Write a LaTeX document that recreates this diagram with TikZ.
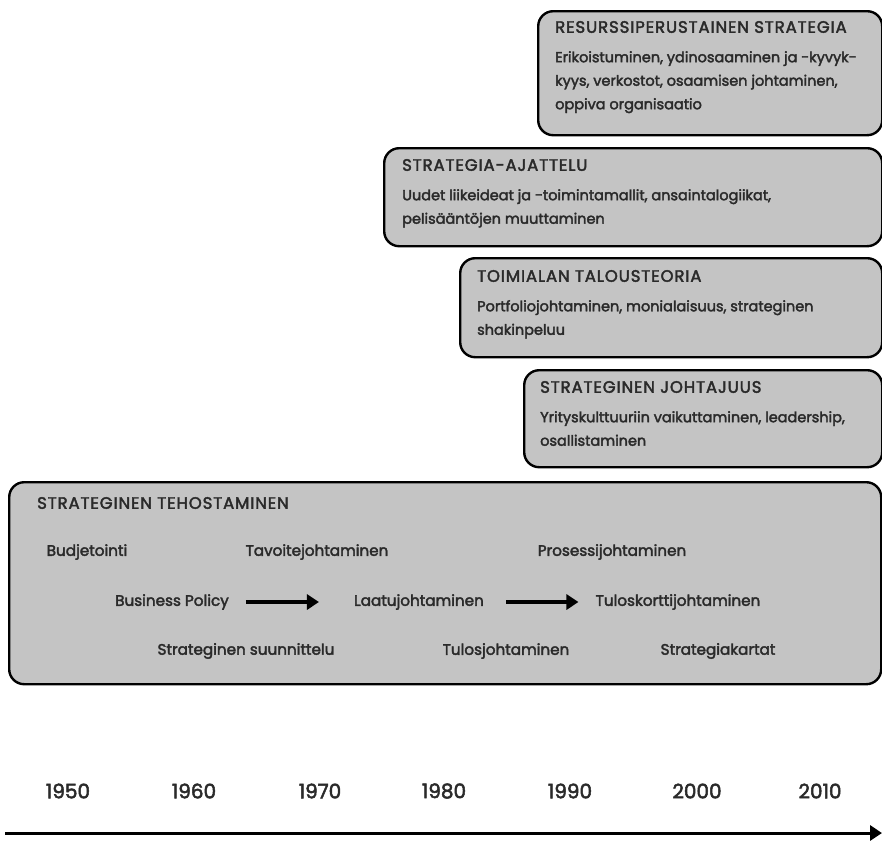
\documentclass[tikz,border=0pt]{standalone}
\usepackage{fontspec}
\setmainfont{Poppins}[FakeBold=2.5]
\newfontfamily\ttlfont{Poppins}[FakeBold=2.5,LetterSpace=5.5]
\usetikzlibrary{arrows.meta}
\definecolor{boxgray}{HTML}{C4C4C4}
\definecolor{ink}{HTML}{2A2A2A}
\begin{document}
\begin{tikzpicture}[x=1pt,y=-1pt,
  box/.style={draw=black,fill=boxgray,line width=2.4pt,rounded corners=15pt,inner sep=0pt,anchor=north west},
  ttl/.style={anchor=west,inner sep=0pt,font=\ttlfont\fontsize{16.5}{18}\selectfont,text=ink},
  body/.style={anchor=north west,inner sep=0pt,align=left,font=\fontsize{14.5}{23.5}\selectfont,text=ink},
  itm/.style={inner sep=0pt,font=\fontsize{15.2}{17}\selectfont,text=ink},
  yr/.style={inner sep=0pt,font=\fontsize{20}{22}\selectfont,text=ink},
  arr/.style={line width=3.2pt,-{Triangle[length=12pt,width=15pt]}}]
\useasboundingbox (0,0) rectangle (882,841);
% boxes
\node[box,minimum width=344pt,minimum height=124pt] (b1) at (537,10) {};
\node[box,minimum width=498pt,minimum height=98pt] (b2) at (383,147) {};
\node[box,minimum width=422pt,minimum height=99pt] (b3) at (459,257) {};
\node[box,minimum width=358pt,minimum height=97pt] (b4) at (523,369) {};
\node[box,minimum width=872pt,minimum height=202pt] (b5) at (8,481) {};
% box 1
\node[ttl] (t1) at (555,27) {RESURSSIPERUSTAINEN STRATEGIA};
\node[body] (d1) at (555,51) {Erikoistuminen, ydinosaaminen ja -kyvyk-\\kyys, verkostot, osaamisen johtaminen,\\oppiva organisaatio};
% box 2
\node[ttl] (t2) at (402,165) {STRATEGIA-AJATTELU};
\node[body] (d2) at (402,189) {Uudet liikeideat ja -toimintamallit, ansaintalogiikat,\\pelisääntöjen muuttaminen};
% box 3
\node[ttl] (t3) at (477,276) {TOIMIALAN TALOUSTEORIA};
\node[body] (d3) at (477,300) {Portfoliojohtaminen, monialaisuus, strateginen\\shakinpeluu};
% box 4
\node[ttl] (t4) at (540,387) {STRATEGINEN JOHTAJUUS};
\node[body] (d4) at (540,411) {Yrityskulttuuriin vaikuttaminen, leadership,\\osallistaminen};
% box 5
\node[ttl] (t5) at (37,503) {STRATEGINEN TEHOSTAMINEN};
\node[itm] (bud) at (87,552) {Budjetointi};
\node[itm] (tav) at (317,552) {Tavoitejohtaminen};
\node[itm] (pro) at (612,552) {Prosessijohtaminen};
\node[itm] (bp) at (172,602) {Business Policy};
\node[itm] (laa) at (419,602) {Laatujohtaminen};
\node[itm] (tul) at (678,602) {Tuloskorttijohtaminen};
\node[itm] (ss) at (246,651) {Strateginen suunnittelu};
\node[itm] (tj) at (506,651) {Tulosjohtaminen};
\node[itm] (sk) at (718,651) {Strategiakartat};
\draw[arr] ([xshift=17pt]bp.east) -- ([xshift=-35pt]laa.west);
\draw[arr] ([xshift=22pt]laa.east) -- ([xshift=-17pt]tul.west);
% timeline
\node[yr] (y1) at (68,791) {1950};
\node[yr] (y2) at (194,791) {1960};
\node[yr] (y3) at (320,791) {1970};
\node[yr] (y4) at (444,791) {1980};
\node[yr] (y5) at (570,791) {1990};
\node[yr] (y6) at (697,791) {2000};
\node[yr] (y7) at (820,791) {2010};
\coordinate (ta) at (5,833);
\coordinate (tb) at (882,833);
\draw[line width=3pt,-{Triangle[length=12pt,width=15pt]}] (ta) -- (tb);
\end{tikzpicture}
\end{document}
